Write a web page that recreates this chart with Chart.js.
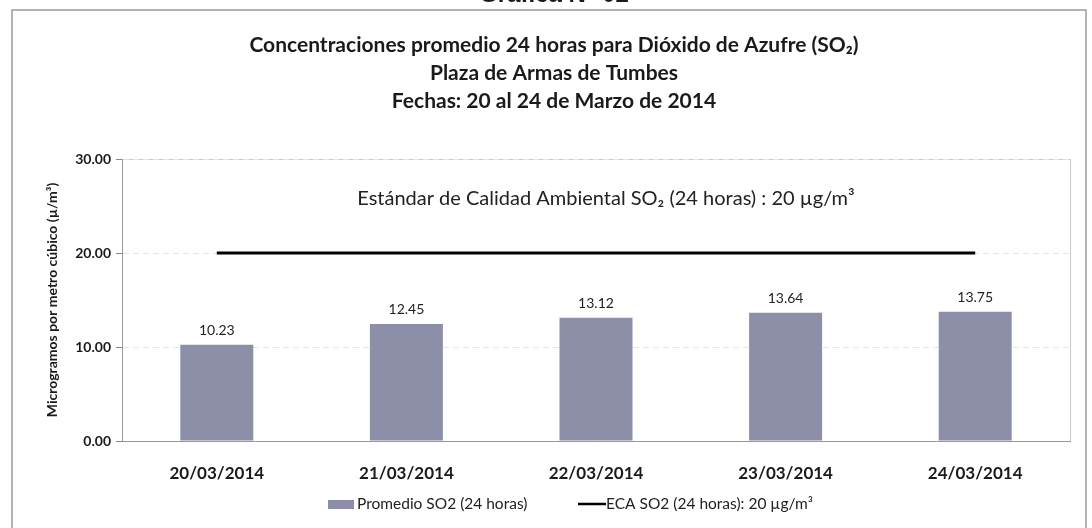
<!DOCTYPE html>
<html>
<head>
<meta charset="utf-8">
<script src="https://cdn.jsdelivr.net/npm/chart.js@4.4.1/dist/chart.umd.min.js"></script>
<style>
  html, body { margin: 0; padding: 0; background: #fff; }
  #wrap { width: 1092px; height: 528px; position: relative; }
</style>
</head>
<body>
<div id="wrap"><canvas id="chart" width="1092" height="528"></canvas></div>
<script>
// datos de la grafica
var fechas = ['20/03/2014', '21/03/2014', '22/03/2014', '23/03/2014', '24/03/2014'];
var promedioSO2 = [10.23, 12.45, 13.12, 13.64, 13.75];
var ecaSO2 = [20, 20, 20, 20, 20];
var yTicks = [0, 10, 20, 30];

var tituloLineas = [
    'Concentraciones promedio 24 horas para Dióxido de Azufre (SO₂)',
    'Plaza de Armas de Tumbes',
    'Fechas: 20 al 24 de Marzo de 2014'
];

var barColor = '#8d8ea8';

// titulos, etiquetas, leyenda y marco
var extras = {
    id: 'extras',
    beforeDraw: function (chart) {
        var c = chart.ctx;
        var a = chart.chartArea;
        c.save();
        // marco exterior
        c.strokeStyle = '#9a9a9a';
        c.lineWidth = 1.5;
        c.strokeRect(12, 10, 1074, 540);
        // borde del area del grafico
        c.strokeStyle = '#c8c8c8';
        c.lineWidth = 1;
        c.strokeRect(a.left + 0.5, a.top + 0.5, a.right - a.left, a.bottom - a.top);
        c.restore();
    },
    afterDraw: function (chart) {
        var c = chart.ctx;
        c.save();
        c.fillStyle = '#1a1a1a';
        c.textAlign = 'center';
        c.textBaseline = 'alphabetic';
        c.font = 'bold 24px "Liberation Sans"';
        c.fillText('Gráfica N° 02', 554, 2);

        c.font = 'bold 21px Lato';
        c.textBaseline = 'middle';
        tituloLineas.forEach(function (t, i) {
            c.fillText(t, 554, 45 + i * 28);
        });

        // texto del estandar
        c.font = '20px Lato';
        c.fillStyle = '#222';
        c.fillText('Estándar de Calidad Ambiental SO₂ (24 horas) : 20 µg/m³', 606, 199);

        // valores sobre las barras
        var meta = chart.getDatasetMeta(0);
        c.font = '14px Lato';
        c.textBaseline = 'bottom';
        meta.data.forEach(function (bar, i) {
            c.fillText(promedioSO2[i].toFixed(2), bar.x, bar.y - 7);
        });

        // leyenda
        var ly = 504;
        c.font = '15.5px Lato';
        c.textAlign = 'left';
        c.textBaseline = 'middle';
        c.fillStyle = barColor;
        c.fillRect(328, ly - 4, 26, 9);
        c.fillStyle = '#222';
        c.fillText(chart.data.datasets[0].label, 357, ly);
        c.strokeStyle = '#000';
        c.lineWidth = 2.5;
        c.beginPath();
        c.moveTo(578, ly);
        c.lineTo(606, ly);
        c.stroke();
        c.fillText(chart.data.datasets[1].label, 606, ly);
        c.restore();
    }
};

var ctx = document.getElementById('chart').getContext('2d');

var myChart = new Chart(ctx, {
    type: 'bar',
    data: {
        labels: fechas,
        datasets: [{
            label: 'Promedio SO2 (24 horas)',
            data: promedioSO2,
            backgroundColor: barColor,
            borderWidth: 0,
            categoryPercentage: 1,
            barPercentage: 0.385,
            order: 2
        }, {
            type: 'line',
            label: 'ECA SO2 (24 horas): 20 µg/m³',
            data: ecaSO2,
            borderColor: '#000',
            borderWidth: 3,
            pointRadius: 0,
            fill: false,
            order: 1
        }]
    },
    plugins: [extras],
    options: {
        responsive: false,
        animation: false,
        layout: {
            padding: { top: 159, right: 22, left: 0, bottom: 0 }
        },
        plugins: {
            legend: { display: false },
            title: { display: false },
            tooltip: { enabled: false }
        },
        scales: {
            x: {
                grid: { display: false },
                border: { color: '#999' },
                ticks: {
                    color: '#1a1a1a',
                    font: { family: 'Lato', size: 17, weight: 'bold' },
                    padding: 14
                },
                afterFit: function (scale) { scale.height = 87; }
            },
            y: {
                min: 0,
                max: 30,
                afterBuildTicks: function (scale) {
                    scale.ticks = yTicks.map(function (v) { return { value: v }; });
                },
                grid: {
                    color: '#e4e4e4',
                    tickColor: '#888',
                    tickLength: 6,
                    drawOnChartArea: true
                },
                border: { color: '#999', dash: [6, 4] },
                ticks: {
                    color: '#1a1a1a',
                    font: { family: 'Lato', size: 14, weight: 'bold' },
                    padding: 5,
                    callback: function (v) { return Number(v).toFixed(2); }
                },
                title: {
                    display: true,
                    text: 'Microgramos por metro cúbico (µ/m³)',
                    color: '#1a1a1a',
                    font: { family: 'Lato', size: 14, weight: 'bold' },
                    padding: { top: 44, bottom: 10 }
                },
                afterFit: function (scale) { scale.width = 122; }
            }
        }
    }
});
</script>
</body>
</html>
